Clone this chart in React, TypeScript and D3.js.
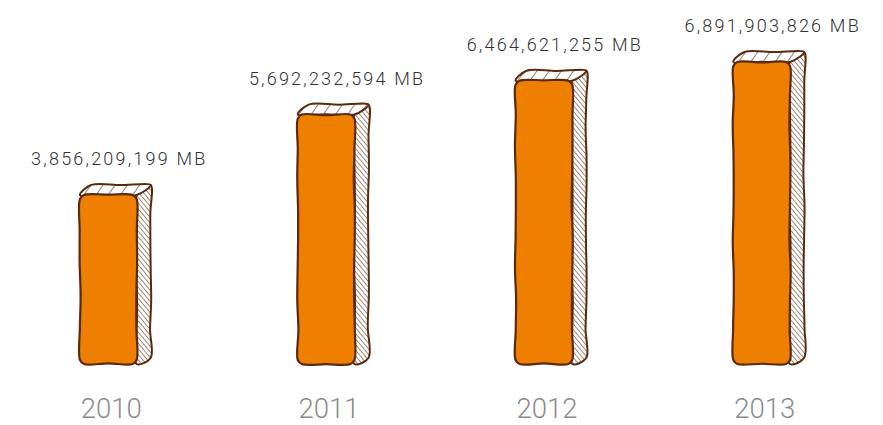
import React from "react";
import * as d3 from "d3";

const years = ["2010", "2011", "2012", "2013"];
const values = [3856209199, 5692232594, 6464621255, 6891903826];
const unit = "MB";

const W = 883;
const H = 425;
const DX = 14;
const DY = 10;
const STROKE = "#5a2a0e";
const ORANGE = "#ef7f00";

function wobble(pts: [number, number][], seed: number, amp = 0.5, closed = true): string {
  const out: [number, number][] = [];
  const n = pts.length;
  const segs = closed ? n : n - 1;
  let k = 0;
  for (let i = 0; i < segs; i++) {
    const a = pts[i];
    const b = pts[(i + 1) % n];
    const len = Math.hypot(b[0] - a[0], b[1] - a[1]);
    const steps = Math.max(1, Math.round(len / 30));
    const nx = -(b[1] - a[1]) / (len || 1);
    const ny = (b[0] - a[0]) / (len || 1);
    for (let s = 0; s < steps; s++) {
      const t = s / steps;
      const off = s === 0 ? 0 : amp * Math.sin(seed * 3.1 + k * 1.73) + 0.4 * amp * Math.cos(seed + k * 2.9);
      out.push([a[0] + (b[0] - a[0]) * t + nx * off, a[1] + (b[1] - a[1]) * t + ny * off]);
      k++;
    }
  }
  if (!closed) out.push(pts[n - 1]);
  const line = d3.line().curve(closed ? d3.curveCatmullRomClosed.alpha(0.5) : d3.curveCatmullRom.alpha(0.5));
  return line(out) || "";
}

export default function App() {
  const x = d3.scaleBand<string>().domain(years).range([80, 790]).paddingInner(0.74).paddingOuter(0);
  const y = d3.scaleLinear().domain([0, d3.max(values) as number]).range([364, 62]);
  const fmt = d3.format(",");
  const bw = x.bandwidth();

  return (
    <svg width={W} height={H} style={{ position: "absolute", left: 0, top: 0 }}>
      <defs>
        <pattern id="hatchSide" patternUnits="userSpaceOnUse" width="3.6" height="3.6" patternTransform="rotate(-40)">
          <rect width="3.6" height="3.6" fill="#fff" />
          <line x1="0" y1="0" x2="0" y2="3.6" stroke={STROKE} strokeWidth="1.1" />
        </pattern>
        <pattern id="hatchTop" patternUnits="userSpaceOnUse" width="10" height="10" patternTransform="rotate(35)">
          <rect width="10" height="10" fill="#fff" />
          <line x1="0" y1="0" x2="0" y2="10" stroke={STROKE} strokeWidth="1.2" />
        </pattern>
      </defs>
      {years.map((yr, i) => {
        const x0 = x(yr) as number;
        const x1 = x0 + bw;
        const yt = y(values[i]);
        const yb = y(0);
        const side: [number, number][] = [
          [x1, yt],
          [x1 + DX, yt - DY],
          [x1 + DX, yb - DY + 4],
          [x1, yb],
        ];
        const top: [number, number][] = [
          [x0, yt],
          [x0 + DX - 3, yt - DY],
          [x1 + DX, yt - DY],
          [x1, yt],
        ];
        const r = 4;
        const front: [number, number][] = [
          [x0 + r, yt],
          [x1 - r, yt],
          [x1, yt + r],
          [x1, yb - r],
          [x1 - r, yb],
          [x0 + r, yb],
          [x0, yb - r],
          [x0, yt + r],
        ];
        const fc = x0 + bw / 2;
        return (
          <g key={yr}>
            <path d={wobble(side, i + 1, 0.5)} fill="url(#hatchSide)" stroke={STROKE} strokeWidth={2} strokeLinejoin="round" />
            <path d={wobble(top, i + 5, 0.5)} fill="url(#hatchTop)" stroke={STROKE} strokeWidth={2} strokeLinejoin="round" />
            <path d={wobble(front, i + 9, 0.5)} fill={ORANGE} stroke={STROKE} strokeWidth={2.2} strokeLinejoin="round" />
            <text x={fc + 11} y={yt - DY - 20} textAnchor="middle" fontFamily="Roboto, 'Liberation Sans', sans-serif" fontWeight={300} fontSize={18} letterSpacing={2.2} fill="#333">
              {`${fmt(values[i])} ${unit}`}
            </text>
            <text x={fc + 3} y={418} textAnchor="middle" fontFamily="Roboto, 'Liberation Sans', sans-serif" fontWeight={300} fontSize={27.5} fill="#8c8c8c">
              {yr}
            </text>
          </g>
        );
      })}
    </svg>
  );
}
